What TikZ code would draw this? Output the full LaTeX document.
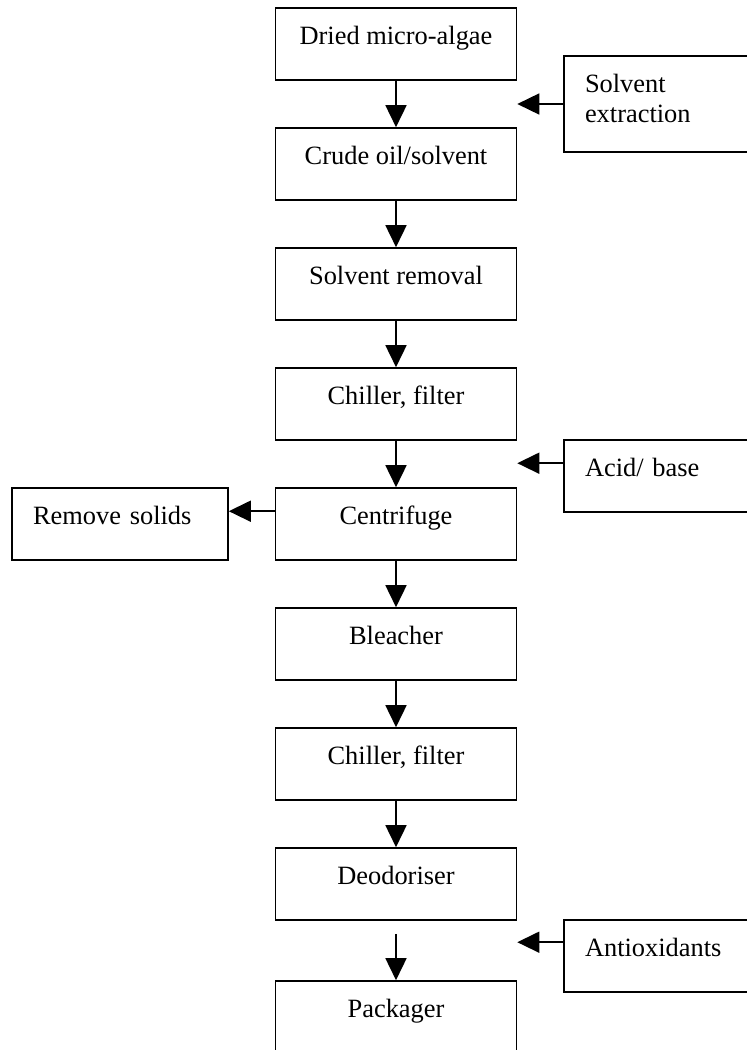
\documentclass[tikz,border=0pt]{standalone}
\usepackage{fontspec}
\setmainfont{Liberation Serif}
\usetikzlibrary{arrows.meta}

\tikzset{
  stage/.style={draw, line width=0.8pt, minimum width=120.5pt, minimum height=36pt,
    text height=8pt, text depth=8pt, inner sep=0pt},
  sidebox/.style={draw, line width=0.8pt, minimum height=36pt, align=left,
    text height=8pt, text depth=8pt, inner xsep=10.5pt, inner ysep=0pt},
  flow/.style={-{Triangle[length=11pt,width=10.5pt]}, line width=0.8pt},
}

\begin{document}
\begin{tikzpicture}[x=0.5pt, y=-0.5pt, font=\fontsize{13.2}{15}\selectfont]
	\useasboundingbox (0,0) rectangle (747,1050);
	% main line
	\node[stage] (dried) at (396,44) {Dried micro-algae};
	\node[stage] (crude) at (396,164) {Crude oil/solvent};
	\node[stage] (removal) at (396,284) {Solvent removal};
	\node[stage] (chill1) at (396,404) {Chiller, filter};
	\node[stage] (centri) at (396,524) {Centrifuge};
	\node[stage] (bleach) at (396,644) {Bleacher};
	\node[stage] (chill2) at (396,764) {Chiller, filter};
	\node[stage] (deodor) at (396,884) {Deodoriser};
	\node[stage] (pack) at (396,1017) {Packager};
	% side inputs and outputs
	\node[sidebox, text width=77pt, minimum height=48pt, text depth=20pt] (extract) at (662,104) {Solvent\\extraction};
	\node[sidebox, text width=77pt] (acid) at (662,476) {Acid/ base};
	\node[sidebox, text width=77pt] (antiox) at (662,956) {Antioxidants};
	\node[sidebox, text width=87pt] (solids) at (120,524) {Remove solids};

	\draw[flow] (dried) -- (crude);
	\draw[flow] (crude) -- (removal);
	\draw[flow] (removal) -- (chill1);
	\draw[flow] (chill1) -- (centri);
	\draw[flow] (centri) -- (bleach);
	\draw[flow] (bleach) -- (chill2);
	\draw[flow] (chill2) -- (deodor);
	\draw[flow, shorten <=6.5pt] (deodor) -- (pack);

	\coordinate (acid-in) at ([yshift=-12pt]acid.north west);
	\coordinate (antiox-in) at ([yshift=-11.5pt]antiox.north west);
	\coordinate (solids-out) at ([yshift=-12pt]centri.north west);
	\draw[flow] (extract.west) -- (extract.west -| dried.east);
	\draw[flow] (acid-in) -- (acid-in -| chill1.east);
	\draw[flow] (antiox-in) -- (antiox-in -| deodor.east);
	\draw[flow] (solids-out) -- (solids-out -| solids.east);
\end{tikzpicture}
\end{document}
